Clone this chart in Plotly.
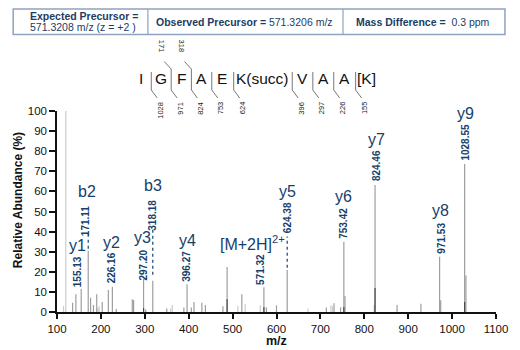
import plotly.graph_objects as go

# ---------------- data ----------------
ion_mz = [155.13, 171.11, 226.16, 297.20, 318.18, 396.27, 571.32, 624.38, 753.42, 824.46, 971.53, 1028.55]
ion_int = [11.4, 30.5, 12.6, 16.4, 15.6, 13.8, 12.3, 20.9, 35.0, 63.2, 27.5, 73.6]
ion_names = ["y1", "b2", "y2", "y3", "b3", "y4", "[M+2H]<sup>2+</sup>", "y5", "y6", "y7", "y8", "y9"]
ion_labels = ["155.13", "171.11", "226.16", "297.20", "318.18", "396.27", "571.32", "624.38",
              "753.42", "824.46", "971.53", "1028.55"]

mid_mz = [135.5, 143, 176.5, 183, 190.5, 203, 217, 235, 271.5, 274.5, 302, 350, 389, 406, 412,
          430, 438, 478, 487.5, 521, 577, 600, 713.5, 731, 746, 756, 823, 874.6, 929, 974, 1031.5]
mid_int = [4.6, 8.8, 7.1, 3.5, 8.8, 5, 11, 1.5, 6.3, 6, 1.3, 1.8, 2.3, 2.3, 5,
           4.6, 3.5, 2.8, 22.4, 8.8, 2.3, 3.3, 2.3, 4.3, 2.3, 8, 3.5, 3.5, 4.1, 5.8, 18.2]

light_mz = [115, 120, 193, 196, 359, 362.5, 512, 528.6, 563, 672, 724, 727.6]
light_int = [3, 100, 2, 2.8, 1.8, 3.5, 3, 3.8, 3.3, 1.8, 3.3, 2.8]

dark_mz = [297.2, 487.5, 571.32, 753.42, 824.46, 1028.55]
dark_int = [2, 6.3, 2.5, 2.5, 12, 5]

# label placement (data units) for ion names / numbers
name_y = [33.0, 59.9, 34.5, 37.3, 62.7, 35.5, 34.3, 59.9, 57.4, 85.6, 50.4, 98.9]
num_y = [19.9, 45.3, 21.9, 23.4, 48.3, 22.5, 21.4, 46.8, 44.3, 72.6, 36.8, 84.6]
name_dx = [-4, -1, -1, -1, 0, 0, -11, 0, 0, 1, 1, 1]
num_dx = [-4, -2, 0, 0, 0, 0, -3, 1, 0, 1, 1, 1]

# dotted connectors (ion index, from, to)
dotted = [(1, 31.5, 39.5), (4, 18.5, 42.0), (7, 22.0, 37.5)]

# sequence
seq_letters = ["I", "G", "F", "A", "E", "K(succ)", "V", "A", "A", "[K]"]
y_ion_marks = ["1028", "971", "824", "753", "624", "396", "297", "226", "155"]
b_ion_marks = {1: "171", 2: "318"}

x_ticks = list(range(100, 1101, 100))
y_ticks = list(range(0, 101, 10))

# ---------------- layout helpers ----------------
W, H = 520, 350
L, R, T, B = 57, 22, 111, 38
PW, PH = W - L - R, H - T - B


def px(x):
    return (x - L) / PW


def py(y):
    return (H - B - y) / PH


FN = "Liberation Sans, Arial, sans-serif"
BLUE = "#15416b"
NAVY = "#1d3c62"


def sticks(xs, ys):
    X, Y = [], []
    for a, b in zip(xs, ys):
        X += [a, a, None]
        Y += [0, b, None]
    return X, Y


fig = go.Figure()
for xs, ys, col in [(light_mz, light_int, "#cccccc"), (mid_mz, mid_int, "#9e9e9e"),
                    (ion_mz, ion_int, "#9e9e9e"), (dark_mz, dark_int, "#4a4a4a")]:
    X, Y = sticks(xs, ys)
    fig.add_trace(go.Scatter(x=X, y=Y, mode="lines", line=dict(color=col, width=1.2),
                             hoverinfo="skip", showlegend=False))

for i, a, b in dotted:
    fig.add_trace(go.Scatter(x=[ion_mz[i], ion_mz[i]], y=[a, b], mode="lines",
                             line=dict(color=BLUE, width=1.2, dash="dot"),
                             hoverinfo="skip", showlegend=False))

ann = []
for i in range(len(ion_mz)):
    ann.append(dict(x=ion_mz[i], y=name_y[i], xref="x", yref="y", text=ion_names[i],
                    showarrow=False, xshift=name_dx[i], xanchor="center", yanchor="middle",
                    font=dict(family=FN, size=16, color=BLUE)))
    ann.append(dict(x=ion_mz[i], y=num_y[i], xref="x", yref="y", text="<b>%s</b>" % ion_labels[i],
                    showarrow=False, xshift=num_dx[i], textangle=-90, xanchor="center",
                    yanchor="middle", font=dict(family=FN, size=10, color=BLUE)))

shapes = []
# table
shapes.append(dict(type="rect", xref="paper", yref="paper", x0=px(13), x1=px(507), y0=py(34.5),
                   y1=py(9), line=dict(color="#8ea3bf", width=1.5)))
for xd in [148.3, 344.3]:
    shapes.append(dict(type="line", xref="paper", yref="paper", x0=px(xd), x1=px(xd),
                       y0=py(34.5), y1=py(9), line=dict(color="#8ea3bf", width=1.2)))
TF = dict(family=FN, size=10.5, color=NAVY)
ann.append(dict(x=px(28), y=py(16), xref="paper", yref="paper", text="<b>Expected Precursor =</b>",
                showarrow=False, xanchor="left", yanchor="middle", font=TF))
ann.append(dict(x=px(28), y=py(27.5), xref="paper", yref="paper", text="571.3208 m/z (z = +2 )",
                showarrow=False, xanchor="left", yanchor="middle", font=TF))
ann.append(dict(x=px(245.5), y=py(22.5), xref="paper", yref="paper",
                text="<b>Observed Precursor =</b> 571.3206 m/z",
                showarrow=False, xanchor="center", yanchor="middle", font=TF))
ann.append(dict(x=px(425), y=py(22.5), xref="paper", yref="paper",
                text="<b>Mass Difference =</b>  0.3 ppm",
                showarrow=False, xanchor="center", yanchor="middle", font=TF))

# sequence
seq_x = [141.7, 161, 182, 202, 222.5, 263, 304, 325, 346, 368]
div_x = [151.7, 171.7, 192, 212.5, 234.5, 293.3, 314, 335, 357]
for s, xx in zip(seq_letters, seq_x):
    ann.append(dict(x=px(xx), y=py(78.5), xref="paper", yref="paper", text=s, showarrow=False,
                    xanchor="center", yanchor="middle", font=dict(family=FN, size=15.5, color="#111111")))
for k, d in enumerate(div_x):
    if k in b_ion_marks:
        path = "M %f %f L %f %f L %f %f L %f %f" % (px(d - 7), py(61.5), px(d), py(69),
                                                    px(d), py(90), px(d + 6), py(98))
    else:
        path = "M %f %f L %f %f L %f %f" % (px(d), py(72), px(d), py(90), px(d + 6), py(98))
    shapes.append(dict(type="path", xref="paper", yref="paper", path=path,
                       line=dict(color="#777777", width=1)))
    ann.append(dict(x=px(d + 8.5), y=py(99.5), xref="paper", yref="paper", text=y_ion_marks[k],
                    showarrow=False, textangle=-90, xanchor="center", yanchor="top",
                    font=dict(family=FN, size=7.5, color="#222222")))
    if k in b_ion_marks:
        ann.append(dict(x=px(d - 10), y=py(54.5), xref="paper", yref="paper", text=b_ion_marks[k],
                        showarrow=False, textangle=90, xanchor="center", yanchor="bottom",
                        font=dict(family=FN, size=7.5, color="#222222")))

# axis titles
ann.append(dict(x=px(18), y=py(200), xref="paper", yref="paper", text="<b>Relative Abundance (%)</b>",
                showarrow=False, textangle=-90, xanchor="center", yanchor="middle",
                font=dict(family=FN, size=12, color="#111111")))
ann.append(dict(x=px(278), y=py(341), xref="paper", yref="paper", text="<b>m/z</b>",
                showarrow=False, xanchor="center", yanchor="middle",
                font=dict(family=FN, size=12.5, color="#111111")))

fig.update_layout(
    width=W, height=H, margin=dict(l=L, r=R, t=T, b=B),
    paper_bgcolor="white", plot_bgcolor="white",
    annotations=ann, shapes=shapes, showlegend=False,
    xaxis=dict(range=[100, 1100], tickvals=x_ticks, ticks="outside", ticklen=5, tickwidth=1.5,
               tickcolor="#111", showline=True, linecolor="#111", linewidth=1.5, showgrid=False,
               zeroline=False, tickfont=dict(family=FN, size=11.5, color="#111")),
    yaxis=dict(range=[0, 100], tickvals=y_ticks, ticks="outside", ticklen=6, tickwidth=1.5,
               tickcolor="#111", showline=True, linecolor="#111", linewidth=1.5, showgrid=False,
               zeroline=False, tickfont=dict(family=FN, size=11.5, color="#111")),
)
fig.write_html("out.html")
